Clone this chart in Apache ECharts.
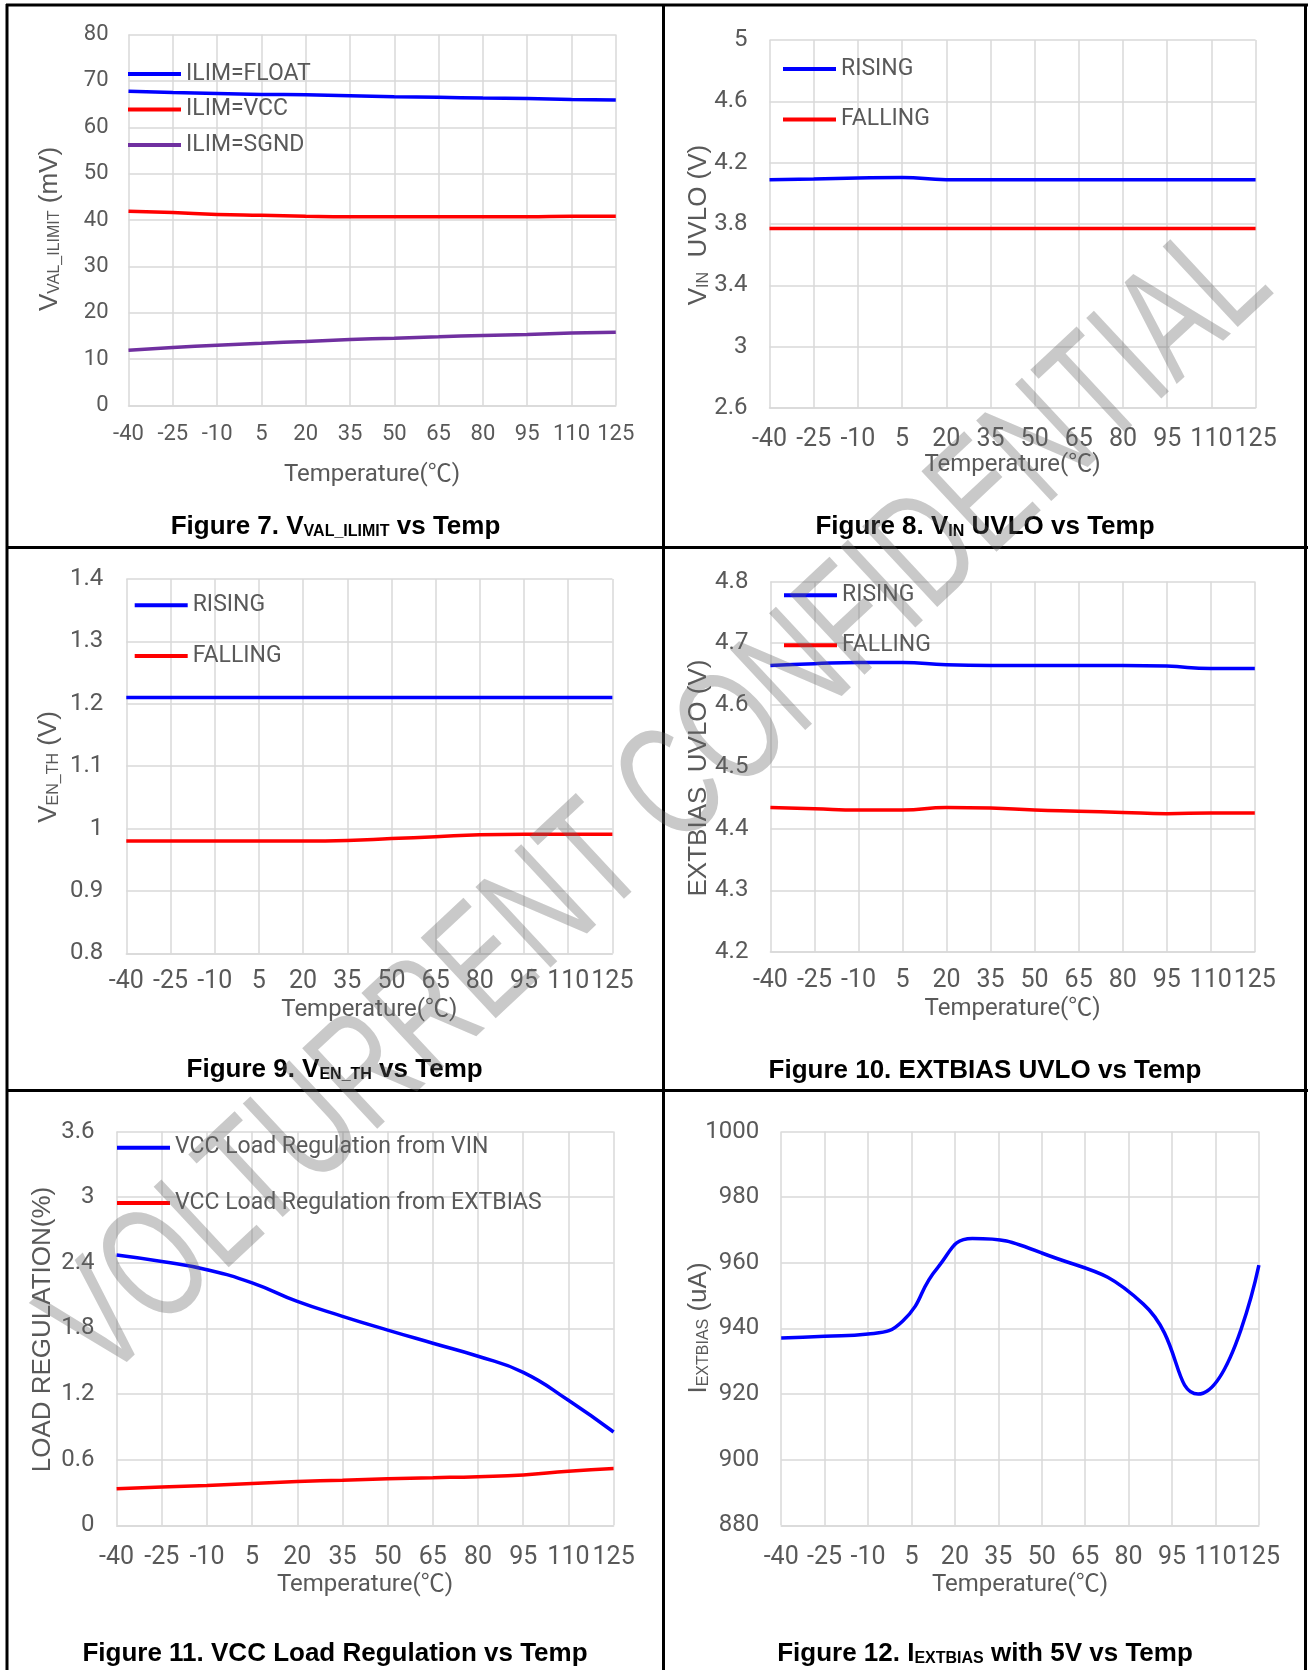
<!DOCTYPE html>
<html>
<head>
<meta charset="utf-8">
<script src="https://cdn.jsdelivr.net/npm/echarts@6/dist/echarts.min.js"></script>
<style>
  html, body { margin: 0; padding: 0; background: #fff; }
  #chart { width: 1308px; height: 1670px; }
</style>
</head>
<body>
<div id="chart"></div>
<script>
// temperature ticks shared by every figure
const temps = [-40, -25, -10, 5, 20, 35, 50, 65, 80, 95, 110, 125];

// Figure 7: V_VAL_ILIMIT (mV)
const ilimFloat = [67.8, 67.5, 67.3, 67.1, 67.0, 66.8, 66.6, 66.5, 66.3, 66.2, 66.0, 65.9];
const ilimVcc   = [41.9, 41.6, 41.2, 41.0, 40.8, 40.7, 40.7, 40.7, 40.7, 40.7, 40.8, 40.8];
const ilimSgnd  = [11.9, 12.5, 13.0, 13.4, 13.8, 14.2, 14.5, 14.8, 15.1, 15.3, 15.6, 15.8];

// Figure 8: VIN UVLO (V)
const vinTicks   = [2.6, 3, 3.4, 3.8, 4.2, 4.6, 5];
const vinRising  = [4.089, 4.094, 4.100, 4.103, 4.089, 4.088, 4.088, 4.088, 4.088, 4.088, 4.088, 4.088];
const vinFalling = [3.77, 3.77, 3.77, 3.77, 3.77, 3.77, 3.77, 3.77, 3.77, 3.77, 3.77, 3.77];

// Figure 9: VEN_TH (V)
const enRising  = [1.21, 1.21, 1.21, 1.21, 1.21, 1.21, 1.21, 1.21, 1.21, 1.21, 1.21, 1.21];
const enFalling = [0.980, 0.980, 0.980, 0.980, 0.980, 0.981, 0.984, 0.987, 0.990, 0.991, 0.991, 0.991];

// Figure 10: EXTBIAS UVLO (V)
const extRising  = [4.664, 4.667, 4.669, 4.669, 4.665, 4.664, 4.664, 4.664, 4.664, 4.663, 4.659, 4.659];
const extFalling = [4.434, 4.432, 4.430, 4.430, 4.434, 4.433, 4.430, 4.428, 4.426, 4.424, 4.425, 4.425];

// Figure 11: load regulation (%)
const regVin     = [2.471, 2.412, 2.337, 2.217, 2.047, 1.911, 1.785, 1.665, 1.546, 1.399, 1.143, 0.853];
const regExtbias = [0.335, 0.350, 0.365, 0.383, 0.400, 0.413, 0.426, 0.435, 0.445, 0.461, 0.495, 0.519];

// Figure 12: IEXTBIAS (uA), read at its own temperatures
const iextTemps = [-40, -25, -10, 2, 14, 26, 50, 85, 104, 125];
const iextbias  = [937.1, 937.6, 938.3, 942.3, 958.5, 967.4, 963.0, 947.5, 920.0, 959.3];

const FONT = 'Roboto, "Noto Sans CJK SC", sans-serif';
const ARIAL = '"Liberation Sans", Arial, sans-serif';
const GREY = '#595959';
const GRID_COLOR = '#d9d9d9';

// plot rectangles [left, top, width, height]
const grids = [
  [128.5, 34.6, 487.3, 370.8],
  [769.5, 40, 486.1, 368],
  [126.3, 579, 486.1, 374.4],
  [770.4, 581.5, 484.4, 370.5],
  [116.6, 1131.6, 497, 393.7],
  [781.2, 1131.6, 477.7, 393.7]
];

const pairs = (xs, ys) => xs.map((x, i) => [x, ys[i]]);
const plain = v => String(+v.toFixed(4));

function xAxisFor(i, size, margin) {
  return {
    type: 'value', gridIndex: i, min: -40, max: 125,
    axisTick: { show: false, customValues: temps },
    axisLabel: { customValues: temps, fontSize: size, color: GREY, margin: margin, fontFamily: FONT, formatter: plain },
    axisLine: { onZero: false, lineStyle: { color: GRID_COLOR, width: 1.5 } },
    splitLine: { show: true, lineStyle: { color: GRID_COLOR, width: 1.5 } }
  };
}

function yAxisFor(i, min, max, interval, size, margin, ticks) {
  const ax = {
    type: 'value', gridIndex: i, min: min, max: max,
    axisLine: { show: false },
    axisTick: { show: false },
    axisLabel: { fontSize: size, color: GREY, margin: margin, fontFamily: FONT, formatter: plain },
    splitLine: { show: true, lineStyle: { color: GRID_COLOR, width: 1.5 } }
  };
  if (ticks) {
    ax.axisTick.customValues = ticks;
    ax.axisLabel.customValues = ticks;
  } else {
    ax.interval = interval;
  }
  return ax;
}

function line(name, i, xs, ys, color) {
  return {
    type: 'line', name: name, xAxisIndex: i, yAxisIndex: i,
    data: pairs(xs, ys), smooth: 0.5, showSymbol: false, color: color,
    itemStyle: { color: color },
    lineStyle: { width: 3.5, color: color }
  };
}

function legend(left, top, gap, names) {
  return {
    left: left, top: top, orient: 'vertical', padding: 0, itemGap: gap,
    icon: 'rect', itemWidth: 53, itemHeight: 4, selectedMode: false,
    textStyle: { color: GREY, fontSize: 23, fontFamily: FONT },
    data: names
  };
}

function vText(x, y, text, rich) {
  return {
    type: 'text', x: x, y: y, rotation: Math.PI / 2, silent: true,
    style: {
      text: text, align: 'center', verticalAlign: 'middle',
      fill: GREY, font: '26px ' + ARIAL, rich: rich || {}
    }
  };
}

function hText(x, y, text) {
  return {
    type: 'text', x: x, y: y, silent: true,
    style: { text: text, align: 'center', verticalAlign: 'middle', fill: GREY, font: '24px ' + FONT }
  };
}

function title(x, y, text) {
  return {
    type: 'text', x: x, y: y, silent: true,
    style: {
      text: text, align: 'center', verticalAlign: 'middle', fill: '#000',
      font: 'bold 26px ' + ARIAL,
      rich: {
        b: { fontSize: 26, fontWeight: 'bold', fontFamily: ARIAL, fill: '#000' },
        s: { fontSize: 16, fontWeight: 'bold', fontFamily: ARIAL, fill: '#000', verticalAlign: 'bottom' }
      }
    }
  };
}

const subRich = {
  m: { fontSize: 26, fontFamily: ARIAL, fill: GREY },
  s: { fontSize: 16, fontFamily: ARIAL, fill: GREY, verticalAlign: 'bottom' }
};

function vline(x, y1, y2) {
  return { type: 'line', silent: true, shape: { x1: x, y1: y1, x2: x, y2: y2 }, style: { stroke: '#000', lineWidth: 3 } };
}
function hline(y, x1, x2) {
  return { type: 'line', silent: true, shape: { x1: x1, y1: y, x2: x2, y2: y }, style: { stroke: '#000', lineWidth: 3 } };
}

const option = {
  animation: false,
  backgroundColor: '#fff',
  grid: grids.map(g => ({ left: g[0], top: g[1], width: g[2], height: g[3] })),
  xAxis: [
    xAxisFor(0, 22, 18), xAxisFor(1, 25, 19), xAxisFor(2, 25, 16),
    xAxisFor(3, 25, 16), xAxisFor(4, 25, 20), xAxisFor(5, 25, 20)
  ],
  yAxis: [
    yAxisFor(0, 0, 80, 10, 22, 20),
    yAxisFor(1, 2.6, 5, null, 24, 22, vinTicks),
    yAxisFor(2, 0.8, 1.4, 0.1, 24, 23),
    yAxisFor(3, 4.2, 4.8, 0.1, 24, 22),
    yAxisFor(4, 0, 3.6, 0.6, 24, 22),
    yAxisFor(5, 880, 1000, 20, 24, 22)
  ],
  legend: [
    legend(128, 62.5, 12.5, ['ILIM=FLOAT', 'ILIM=VCC', 'ILIM=SGND']),
    legend(783, 57.5, 27.6, ['RISING', 'FALLING']),
    legend(134.7, 593.8, 27.7, ['RISING', 'FALLING']),
    legend(784, 583.8, 26.9, ['RISING', 'FALLING']),
    legend(117, 1136.2, 32.2, ['VCC Load Regulation from VIN', 'VCC Load Regulation from EXTBIAS'])
  ],
  series: [
    line('ILIM=FLOAT', 0, temps, ilimFloat, '#0000ff'),
    line('ILIM=VCC', 0, temps, ilimVcc, '#ff0000'),
    line('ILIM=SGND', 0, temps, ilimSgnd, '#7030a0'),
    line('RISING', 1, temps, vinRising, '#0000ff'),
    line('FALLING', 1, temps, vinFalling, '#ff0000'),
    line('RISING', 2, temps, enRising, '#0000ff'),
    line('FALLING', 2, temps, enFalling, '#ff0000'),
    line('RISING', 3, temps, extRising, '#0000ff'),
    line('FALLING', 3, temps, extFalling, '#ff0000'),
    line('VCC Load Regulation from VIN', 4, temps, regVin, '#0000ff'),
    line('VCC Load Regulation from EXTBIAS', 4, temps, regExtbias, '#ff0000'),
    line('IEXTBIAS', 5, iextTemps, iextbias, '#0000ff')
  ],
  graphic: [
    // cell borders
    vline(7, 4, 1670), vline(663.5, 4, 1670), vline(1305.5, 4, 1670),
    hline(5, 6, 1308), hline(547.5, 6, 1308), hline(1090.5, 6, 1308),
    // y axis names
    vText(50, 229, '{m|V}{s|VAL_ILIMIT}{m| (mV)}', subRich),
    vText(699, 225, '{m|V}{s|IN}{m|  UVLO (V)}', subRich),
    vText(48.4, 767, '{m|V}{s|EN_TH}{m| (V)}', subRich),
    vText(698.7, 778, 'EXTBIAS  UVLO (V)'),
    vText(43.3, 1329.5, 'LOAD REGULATION(%)'),
    vText(698.7, 1328, '{m|I}{s|EXTBIAS}{m| (uA)}', subRich),
    // x axis names
    hText(372, 475, 'Temperature(℃)'),
    hText(1012.5, 464.5, 'Temperature(℃)'),
    hText(369.3, 1009.5, 'Temperature(℃)'),
    hText(1012.6, 1009, 'Temperature(℃)'),
    hText(365, 1585, 'Temperature(℃)'),
    hText(1020, 1585, 'Temperature(℃)'),
    // figure captions
    title(335.5, 527, '{b|Figure 7. V}{s|VAL_ILIMIT}{b| vs Temp}'),
    title(985, 527, '{b|Figure 8. V}{s|IN}{b| UVLO vs Temp}'),
    title(334.6, 1069.8, '{b|Figure 9. V}{s|EN_TH}{b| vs Temp}'),
    title(985, 1070.5, '{b|Figure 10. EXTBIAS UVLO vs Temp}'),
    title(335, 1654, '{b|Figure 11. VCC Load Regulation vs Temp}'),
    title(985, 1654, '{b|Figure 12. I}{s|EXTBIAS}{b| with 5V vs Temp}'),
    // watermark
    {
      type: 'text', x: 660, y: 805, rotation: 0.75, scaleX: 0.7, silent: true, z: 100,
      style: {
        text: 'VOLTURRENT CONFIDENTIAL', align: 'center', verticalAlign: 'middle',
        fill: 'rgba(100,100,100,0.35)', font: '160px ' + ARIAL
      }
    }
  ]
};

const chart = echarts.init(document.getElementById('chart'), null, { renderer: 'canvas' });
chart.setOption(option);
</script>
</body>
</html>
